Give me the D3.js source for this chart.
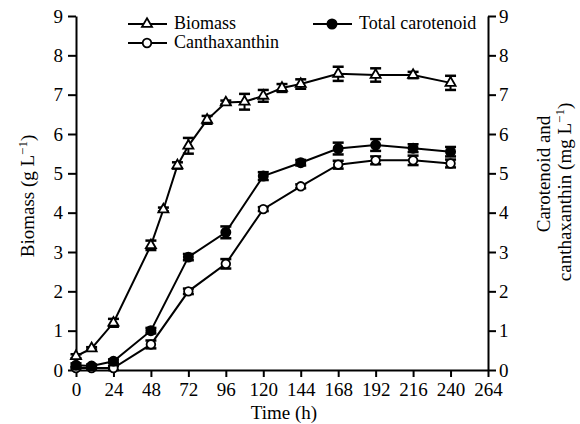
<!DOCTYPE html>
<head>
<meta charset="utf-8">
<style>
body { margin: 0; background: #fff; }
svg text { font-family: "Liberation Serif", "DejaVu Serif", serif !important; fill: #000; }
.axis path, .axis line { stroke: #000; stroke-width: 2; }
</style>
</head>
<body>
<script src="https://cdnjs.cloudflare.com/ajax/libs/d3/7.8.5/d3.min.js"></script>
<script>

// values
var bioTime = [0, 10, 24, 48, 56, 65, 72, 84, 96, 108, 120, 132, 144, 168, 192, 216, 240];
var bioVal  = [0.35, 0.55, 1.2, 3.17, 4.08, 5.2, 5.7, 6.36, 6.8, 6.82, 6.97, 7.17, 7.27, 7.53, 7.5, 7.5, 7.3];
var bioErr  = [0.05, 0.03, 0.1, 0.12, 0.05, 0.08, 0.2, 0.1, 0.05, 0.2, 0.15, 0.1, 0.12, 0.18, 0.17, 0.08, 0.18];

var carTime = [0, 10, 24, 48, 72, 96, 120, 144, 168, 192, 216, 240];
var carVal  = [0.12, 0.1, 0.22, 1.0, 2.87, 3.5, 4.93, 5.27, 5.63, 5.72, 5.64, 5.55];
var carErr  = [0.05, 0.04, 0.05, 0.07, 0.08, 0.15, 0.1, 0.07, 0.15, 0.15, 0.1, 0.12];

var canVal  = [0.05, 0.05, 0.05, 0.65, 2.0, 2.7, 4.09, 4.67, 5.22, 5.33, 5.33, 5.25];
var canErr  = [0.03, 0.03, 0.05, 0.1, 0.07, 0.12, 0.05, 0.05, 0.1, 0.1, 0.12, 0.1];

var xTicks = d3.range(0, 265, 24);
var yTicks = d3.range(0, 10, 1);

var width = 580, height = 424;
var margin = {left: 76, right: 92, top: 16, bottom: 54};
var serif = '"Liberation Serif", "DejaVu Serif", serif';
var fs = 19;

var svg = d3.select("body").append("svg")
    .attr("width", width)
    .attr("height", height);

var x = d3.scaleLinear().domain([0, 264]).range([margin.left, width - margin.right]);
var yL = d3.scaleLinear().domain([0, 9]).range([height - margin.bottom, margin.top]);
var yR = d3.scaleLinear().domain([0, 9]).range([height - margin.bottom, margin.top]);

function styleAxis(g) {
  g.attr("font-family", serif).attr("font-size", fs);
  g.selectAll("text").style("font-family", serif).style("font-size", fs + "px");
}

svg.append("g").attr("class", "axis")
    .attr("transform", "translate(0," + (height - margin.bottom) + ")")
    .call(d3.axisBottom(x).tickValues(xTicks).tickSize(7).tickSizeOuter(0).tickPadding(6))
    .call(styleAxis);

svg.append("g").attr("class", "axis")
    .attr("transform", "translate(" + margin.left + ",0)")
    .call(d3.axisLeft(yL).tickValues(yTicks).tickSize(8).tickSizeOuter(0).tickPadding(5))
    .call(styleAxis);

svg.append("g").attr("class", "axis")
    .attr("transform", "translate(" + (width - margin.right) + ",0)")
    .call(d3.axisRight(yR).tickValues(yTicks).tickSize(8).tickSizeOuter(0).tickPadding(3))
    .call(styleAxis);

function series(times, vals, errs, y, marker) {
  var pts = times.map(function(t, i) { return {t: t, v: vals[i], e: errs[i]}; });
  var g = svg.append("g");
  g.append("path")
    .datum(pts)
    .attr("fill", "none")
    .attr("stroke", "#000")
    .attr("stroke-width", 2)
    .attr("d", d3.line().x(function(d) { return x(d.t); }).y(function(d) { return y(d.v); }));

  var eb = g.selectAll(".eb").data(pts).enter().append("g");
  eb.append("line")
    .attr("x1", function(d) { return x(d.t); }).attr("x2", function(d) { return x(d.t); })
    .attr("y1", function(d) { return y(d.v - d.e); }).attr("y2", function(d) { return y(d.v + d.e); })
    .attr("stroke", "#000").attr("stroke-width", 2);
  [-1, 1].forEach(function(s) {
    eb.append("line")
      .attr("x1", function(d) { return x(d.t) - 5.5; }).attr("x2", function(d) { return x(d.t) + 5.5; })
      .attr("y1", function(d) { return y(d.v + s * d.e); }).attr("y2", function(d) { return y(d.v + s * d.e); })
      .attr("stroke", "#000").attr("stroke-width", 2.5);
  });

  g.selectAll(".m").data(pts).enter().append("path")
    .attr("transform", function(d) { return "translate(" + x(d.t) + "," + y(d.v) + ")"; })
    .attr("d", marker.d)
    .attr("fill", marker.fill)
    .attr("stroke", "#000")
    .attr("stroke-width", 1.8);
}

var triangle = {d: d3.symbol().type(d3.symbolTriangle).size(44)(), fill: "#fff"};
var openCircle = {d: d3.symbol().type(d3.symbolCircle).size(58)(), fill: "#fff"};
var dot = {d: d3.symbol().type(d3.symbolCircle).size(66)(), fill: "#000"};

series(carTime, canVal, canErr, yR, openCircle);
series(carTime, carVal, carErr, yR, dot);
series(bioTime, bioVal, bioErr, yL, triangle);

// legend
var legend = [
  {label: "Biomass", m: triangle, x: 128, y: 24},
  {label: "Canthaxanthin", m: openCircle, x: 128, y: 43},
  {label: "Total carotenoid", m: dot, x: 313, y: 24}
];
legend.forEach(function(l) {
  svg.append("line").attr("x1", l.x).attr("x2", l.x + 39).attr("y1", l.y).attr("y2", l.y)
    .attr("stroke", "#000").attr("stroke-width", 2);
  svg.append("path").attr("d", l.m.d).attr("fill", l.m.fill).attr("stroke", "#000").attr("stroke-width", 1.8)
    .attr("transform", "translate(" + (l.x + 19) + "," + l.y + ")");
  svg.append("text").attr("x", l.x + 46).attr("y", l.y + 5)
    .style("font-family", serif).style("font-size", "18px").text(l.label);
});

// axis titles
svg.append("text").attr("x", 284).attr("y", 419).attr("text-anchor", "middle")
  .style("font-family", serif).style("font-size", fs + "px").text("Time (h)");

var lt = svg.append("text").attr("transform", "translate(34,196) rotate(-90)")
  .attr("text-anchor", "middle").style("font-family", serif).style("font-size", fs + "px");
lt.append("tspan").text("Biomass (g L");
lt.append("tspan").attr("dy", -7).style("font-size", "13px").text("\u22121");
lt.append("tspan").attr("dy", 7).text(")");

var rt = svg.append("text").attr("transform", "translate(550,174) rotate(-90)")
  .attr("text-anchor", "middle").style("font-family", serif).style("font-size", fs + "px");
rt.append("tspan").text("Carotenoid and");
var rt2 = svg.append("text").attr("transform", "translate(571,192) rotate(-90)")
  .attr("text-anchor", "middle").style("font-family", serif).style("font-size", fs + "px");
rt2.append("tspan").text("canthaxanthin (mg L");
rt2.append("tspan").attr("dy", -7).style("font-size", "13px").text("\u22121");
rt2.append("tspan").attr("dy", 7).text(")");

</script>
</body>
</html>
